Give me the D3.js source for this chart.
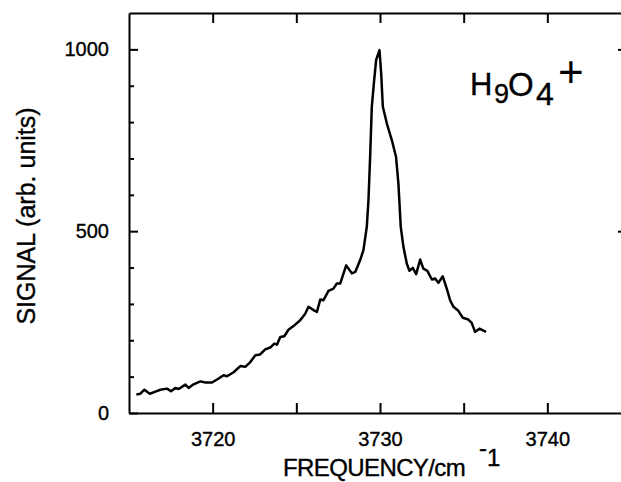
<!DOCTYPE html>
<html>
<head>
<meta charset="utf-8">
<script src="https://cdn.jsdelivr.net/npm/d3@7"></script>
<style>
  body { margin: 0; background: #fff; }
  svg { display: block; font-family: "Liberation Sans", Arial, sans-serif; }
  svg text { stroke: #000; stroke-width: 0.35px; }
  .axis path, .axis line { stroke: #000; stroke-width: 2; }
  .axis text { font-size: 20px; fill: #000; font-family: "Liberation Sans", Arial, sans-serif; }
</style>
</head>
<body>
<svg id="chart" width="621" height="482"></svg>
<script>
// spectrum
var freq = [3715.44, 3715.68, 3715.92, 3716.24, 3716.58, 3716.87, 3717.27, 3717.51, 3717.77, 3717.97,
  3718.37, 3718.56, 3718.86, 3719.26, 3719.56, 3719.96, 3720.36, 3720.65, 3720.86, 3721.25,
  3721.65, 3721.95, 3722.25, 3722.55, 3722.84, 3723.14, 3723.44, 3723.68, 3723.84, 3724.04,
  3724.28, 3724.53, 3724.83, 3725.23, 3725.53, 3725.73, 3726.03, 3726.23, 3726.43, 3726.62,
  3726.92, 3727.22, 3727.42, 3727.62, 3727.98, 3728.32, 3728.52, 3728.81, 3729.01, 3729.21,
  3729.31, 3729.41, 3729.51, 3729.65, 3729.77, 3729.97, 3730.07, 3730.17, 3730.41, 3730.71,
  3730.96, 3731.10, 3731.24, 3731.40, 3731.60, 3731.76, 3731.96, 3732.16, 3732.40, 3732.59,
  3732.83, 3733.10, 3733.29, 3733.49, 3733.75, 3733.99, 3734.19, 3734.39, 3734.68, 3734.95,
  3735.28, 3735.48, 3735.68, 3735.94, 3736.34];
var signal = [51, 53, 64, 53, 59, 64, 67, 60, 69, 66,
  78, 69, 79, 87, 84, 84, 95, 104, 101, 112,
  129, 127, 140, 159, 161, 175, 180, 191, 188, 209,
  211, 229, 239, 255, 273, 292, 283, 278, 312, 310,
  336, 342, 356, 356, 406, 384, 388, 420, 448, 512,
  585, 704, 842, 915, 971, 998, 934, 842, 796, 750,
  704, 631, 512, 457, 411, 391, 399, 382, 422, 397,
  391, 367, 370, 358, 376, 342, 310, 292, 281, 262,
  257, 248, 223, 232, 223];

var xTicks = [3720, 3725, 3730, 3735, 3740];
var yMajor = [0, 500, 1000];
var yMinor = [100, 200, 300, 400, 600, 700, 800, 900];

var svg = d3.select('#chart');
var box = { left: 129, right: 631, top: 13, bottom: 413 };

var x = d3.scaleLinear().domain([3715, 3745]).range([box.left, box.right]);
var y = d3.scaleLinear().domain([0, 1100]).range([box.bottom, box.top]);

// frame + ticks, all pointing inward
svg.append('g').attr('class', 'axis')
  .attr('transform', 'translate(0,' + box.bottom + ')')
  .call(d3.axisBottom(x).tickValues(xTicks).tickSizeInner(-10).tickSizeOuter(0).tickPadding(19)
    .tickFormat(function(d) { return d % 10 === 0 ? d : ''; }));

svg.append('g').attr('class', 'axis')
  .attr('transform', 'translate(0,' + box.top + ')')
  .call(d3.axisTop(x).tickValues(xTicks).tickSizeInner(-10).tickSizeOuter(0).tickFormat(''));

svg.append('g').attr('class', 'axis')
  .attr('transform', 'translate(' + box.left + ',0)')
  .call(d3.axisLeft(y).tickValues(yMajor).tickSizeInner(-9).tickSizeOuter(0).tickPadding(20)
    .tickFormat(d3.format('d')));

svg.append('g').attr('class', 'axis')
  .attr('transform', 'translate(' + box.left + ',0)')
  .call(d3.axisLeft(y).tickValues(yMinor).tickSizeInner(-5).tickSizeOuter(0).tickFormat(''))
  .select('.domain').remove();

svg.append('g').attr('class', 'axis')
  .attr('transform', 'translate(' + box.right + ',0)')
  .call(d3.axisRight(y).tickValues([500, 1000]).tickSizeInner(-13).tickSizeOuter(0).tickFormat(''));

// the trace
var line = d3.line()
  .x(function(d, i) { return x(freq[i]); })
  .y(function(d) { return y(d); });

svg.append('path')
  .datum(signal)
  .attr('d', line)
  .attr('fill', 'none')
  .attr('stroke', '#000')
  .attr('stroke-width', 2.5)
  .attr('stroke-linejoin', 'round');

// axis titles
svg.append('text')
  .attr('transform', 'translate(35,216) rotate(-90)')
  .attr('text-anchor', 'middle')
  .style('font-size', '25px')
  .text('SIGNAL (arb. units)');

svg.append('text')
  .attr('x', 283).attr('y', 476)
  .style('font-size', '24px')
  .style('letter-spacing', '-0.6px')
  .text('FREQUENCY/cm');
var sup = svg.append('text').attr('x', 479).attr('y', 456).style('font-size', '24px');
sup.append('tspan').text('-');
sup.append('tspan').attr('dy', 10).text('1');

// ion label
var ion = svg.append('g');
ion.append('text').attr('x', 470).attr('y', 95).style('font-size', '31px').text('H');
ion.append('text').attr('x', 494).attr('y', 103).style('font-size', '27px').text('9');
ion.append('text').attr('x', 508).attr('y', 96).style('font-size', '33px').text('O');
ion.append('text').attr('x', 536).attr('y', 105).style('font-size', '32px').text('4');
ion.append('text').attr('x', 558).attr('y', 87).style('font-size', '44px').style('stroke-width', 0).text('+');
</script>
</body>
</html>
